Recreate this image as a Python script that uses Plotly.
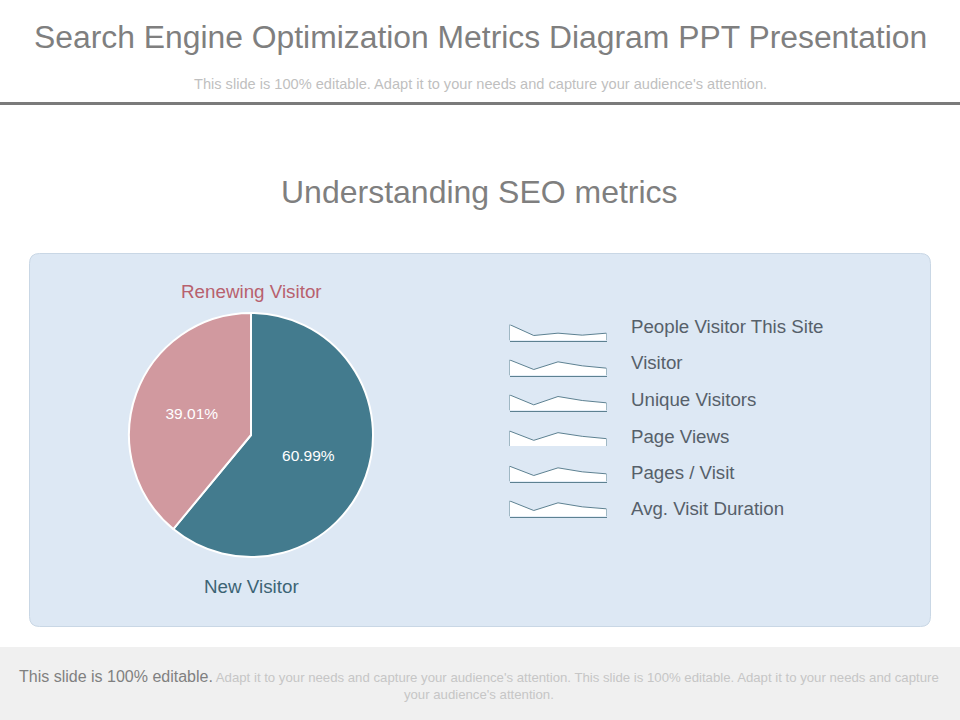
#!/usr/bin/env python3
"""Slide with a visitor pie chart and six small sparkline rows"""
import plotly.graph_objects as go

WIDTH = 960
HEIGHT = 720
FONT = "Liberation Sans"

pie_labels = ["New Visitor", "Renewing Visitor"]
pie_values = [60.99, 39.01]
pie_colors = ["#437b8e", "#d1999f"]

metric_names = [
    "People Visitor This Site",
    "Visitor",
    "Unique Visitors",
    "Page Views",
    "Pages / Visit",
    "Avg. Visit Duration",
]
spark_x = [0, 1, 2, 3, 4]
people_visitor = [48, 15, 22, 16, 22]
visitor = [47, 18, 41, 29, 22]
unique_visitors = [47, 17, 42, 30, 23]
page_views = [45, 17, 40, 29, 22]
pages_per_visit = [46, 18, 41, 29, 23]
avg_duration = [47, 18, 41, 29, 23]
spark_series = [
    people_visitor,
    visitor,
    unique_visitors,
    page_views,
    pages_per_visit,
    avg_duration,
]
spark_bottoms = [340.5, 375.5, 410.5, 446, 481.5, 516.5]
label_centres = [326.5, 362.5, 399, 436.5, 472, 508]


def px_x(x):
    return x / WIDTH


def px_y(y):
    return 1 - y / HEIGHT


def rounded_rect(x0, y0, x1, y1, r):
    """SVG path of a rounded rectangle, pixel input, paper output"""
    pts = [
        ("M", x0 + r, y0), ("L", x1 - r, y0), ("Q", x1, y0, x1, y0 + r),
        ("L", x1, y1 - r), ("Q", x1, y1, x1 - r, y1), ("L", x0 + r, y1),
        ("Q", x0, y1, x0, y1 - r), ("L", x0, y0 + r), ("Q", x0, y0, x0 + r, y0),
    ]
    path = ""
    for p in pts:
        coords = []
        for i in range(1, len(p), 2):
            coords.append(f"{px_x(p[i]):.5f},{px_y(p[i + 1]):.5f}")
        path += p[0] + " ".join(coords) + " "
    return path + "Z"


def text(x, y, s, size, color, anchor="center"):
    return dict(
        x=px_x(x), y=px_y(y), xref="paper", yref="paper", text=s,
        showarrow=False, xanchor=anchor, yanchor="middle", align="center",
        font=dict(family=FONT, size=size, color=color),
    )


fig = go.Figure()

fig.add_trace(go.Pie(
    labels=pie_labels,
    values=pie_values,
    sort=False,
    direction="clockwise",
    rotation=0,
    marker=dict(colors=pie_colors, line=dict(color="white", width=2)),
    texttemplate="%{value:.2f}%",
    textposition="inside",
    insidetextorientation="horizontal",
    textfont=dict(family=FONT, size=15.5, color="white"),
    domain=dict(x=[px_x(129), px_x(373)], y=[px_y(557), px_y(313)]),
    showlegend=False,
))

layout_axes = {}
for i, values in enumerate(spark_series):
    n = i + 1
    fig.add_trace(go.Scatter(
        x=[spark_x[0]] + spark_x + [spark_x[-1]],
        y=[0] + values + [0],
        mode="lines",
        line=dict(color="#5d8191", width=1),
        fill="tozeroy",
        fillcolor="white",
        xaxis=f"x{n}",
        yaxis=f"y{n}",
        showlegend=False,
        cliponaxis=False,
    ))
    bottom = spark_bottoms[i]
    layout_axes[f"xaxis{n}"] = dict(
        domain=[px_x(509.5), px_x(606.5)], range=[0, 4], visible=True,
        showgrid=False, zeroline=False, showticklabels=False, ticks="",
        showline=i != 3, linecolor="#5d8191", linewidth=1,
        anchor=f"y{n}",
    )
    layout_axes[f"yaxis{n}"] = dict(
        domain=[px_y(bottom), px_y(bottom - 16)], range=[0, 48],
        visible=False, anchor=f"x{n}",
    )

annotations = [
    text(480, 37, "Search Engine Optimization Metrics Diagram PPT Presentation", 31.85, "#7f7f7f"),
    text(480, 84, "This slide is 100% editable. Adapt it to your needs and capture your audience's attention.", 14.6, "#bfbfbf"),
    text(479, 192, "Understanding SEO metrics", 32, "#7f7f7f"),
    text(251, 291, "Renewing Visitor", 18.8, "#b8616e"),
    text(251, 586, "New Visitor", 18.8, "#3c6474"),
    text(
        479, 685,
        "<span style='font-size:16px;color:#808080'>This slide is 100% editable.</span> "
        "Adapt it to your needs and capture your audience's attention. "
        "This slide is 100% editable. Adapt it to your needs and capture<br>"
        "your audience's attention.",
        13.2, "#c6c6c6",
    ),
]
for name, y in zip(metric_names, label_centres):
    annotations.append(text(629, y, name, 18.7, "#56606a", anchor="left"))

shapes = [
    dict(type="rect", xref="paper", yref="paper", layer="below",
         x0=0, x1=1, y0=px_y(105), y1=px_y(102),
         fillcolor="#7a7a7a", line_width=0),
    dict(type="path", xref="paper", yref="paper", layer="below",
         path=rounded_rect(29.5, 253.5, 930.5, 626.5, 10),
         fillcolor="#dde8f4", line=dict(color="#c9d7e5", width=1)),
    dict(type="rect", xref="paper", yref="paper", layer="below",
         x0=0, x1=1, y0=0, y1=px_y(647),
         fillcolor="#f0f0f0", line_width=0),
]

fig.update_layout(
    width=WIDTH,
    height=HEIGHT,
    autosize=False,
    margin=dict(l=0, r=0, t=0, b=0),
    paper_bgcolor="white",
    plot_bgcolor="rgba(0,0,0,0)",
    annotations=annotations,
    shapes=shapes,
    **layout_axes,
)

# page has a default body margin, drop it so the slide fills the window
fig.write_html(
    "out.html",
    config={"displayModeBar": False},
    post_script="document.body.style.margin = '0';",
)
